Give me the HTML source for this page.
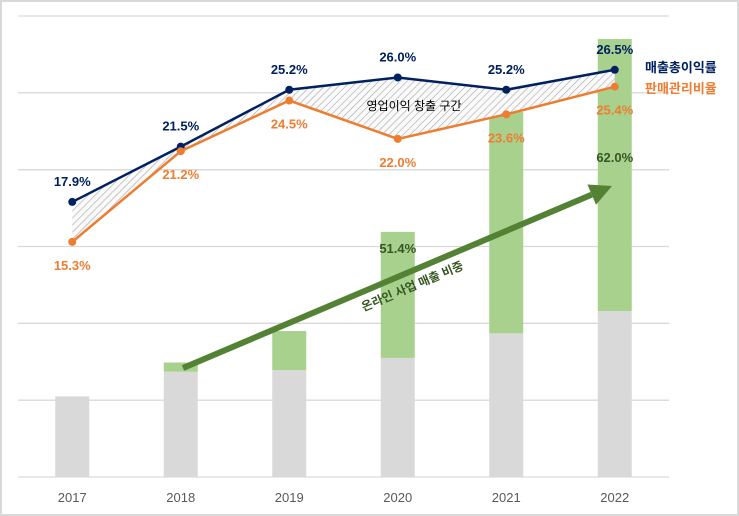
<!DOCTYPE html>
<html><head><meta charset="utf-8"><style>
html,body{margin:0;padding:0;background:#fff;}
svg{display:block;font-family:"Liberation Sans","Noto Sans CJK KR",sans-serif;}
</style></head><body>
<svg id="chart" width="739" height="516" viewBox="0 0 739 516">
<defs>
<pattern id="hatch" width="5" height="5" patternUnits="userSpaceOnUse" patternTransform="rotate(45)">
<rect width="5" height="5" fill="#fafafa"/>
<line x1="0" y1="0" x2="0" y2="5" stroke="#a6a6a6" stroke-width="1.2"/>
</pattern>
</defs>
<rect x="1" y="1" width="737" height="514" fill="#fff" stroke="#d9d9d9" stroke-width="2"/>
<g id="grid"></g>
<g id="bars"></g>
<path id="area" fill="url(#hatch)"/>
<g id="lines"></g>
<g id="labels"></g>
</svg>
<script>
const categories = ["2017","2018","2019","2020","2021","2022"];
const offlineSales = [105,137,139,155,187,216];
const onlineSales = [0,12,51,164,288,354];
const grossMargin = [17.9,21.5,25.2,26.0,25.2,26.5];
const sgaRatio = [15.3,21.2,24.5,22.0,23.6,25.4];
const onlineShareLabels = ["","","","51.4%","","62.0%"];
const barMax = 600, pctMax = 30;

const NS="http://www.w3.org/2000/svg";
const L=18,R=669,T=16,B=477;
const band=(R-L)/categories.length;
const xc=i=>L+band*(i+0.5);
const yBar=v=>B-(v/barMax)*(B-T);
const yPct=v=>B-(v/pctMax)*(B-T);
function mk(tag,attrs,parent){const e=document.createElementNS(NS,tag);for(const k in attrs)e.setAttribute(k,attrs[k]);parent.appendChild(e);return e;}
const grid=document.getElementById('grid'),bars=document.getElementById('bars'),lines=document.getElementById('lines'),labels=document.getElementById('labels');

const ax1=183,ay1=368,ax2=612,ay2=186;
const arrowY=x=>ay1+(ay2-ay1)*(x-ax1)/(ax2-ax1);

for(let k=0;k<=6;k++){
  const y=T+(B-T)*k/6;
  const g=mk('line',{x1:L,x2:R,y1:y,y2:y,stroke:'#d9d9d9','stroke-width':1.3},grid);
  
  
}
categories.forEach((c,i)=>{
  const w=34,x=xc(i)-w/2;
  const g=mk('rect',{x:x,y:yBar(offlineSales[i]),width:w,height:B-yBar(offlineSales[i]),fill:'#d9d9d9'},bars);
  
  
  if(onlineSales[i]>0){
    const top=yBar(offlineSales[i]+onlineSales[i]);
    const o=mk('rect',{x:x,y:top,width:w,height:yBar(offlineSales[i])-top,fill:'#a9d18e'},bars);
    
    
  }
  const t=mk('text',{x:xc(i),y:502,'text-anchor':'middle','font-size':13,fill:'#595959'},labels);
  t.textContent=c;
  
  
  if(onlineShareLabels[i]){
    const s=mk('text',{x:xc(i),y:Math.max(arrowY(xc(i)),ay2)-24,'text-anchor':'middle','font-size':13,'font-weight':'bold',fill:'#375623'},labels);
    s.textContent=onlineShareLabels[i];
    
    
  }
});
let d='';
grossMargin.forEach((v,i)=>{d+=(i?'L':'M')+xc(i)+','+yPct(v);});
for(let i=sgaRatio.length-1;i>=0;i--)d+='L'+xc(i)+','+yPct(sgaRatio[i]);
document.getElementById('area').setAttribute('d',d+'Z');
const ta=mk('text',{x:414,y:110,'text-anchor':'middle','font-size':12,fill:'#000'},labels);
ta.textContent='영업이익 창출 구간';



function series(vals,color,name,above){
  const pts=vals.map((v,i)=>xc(i)+','+yPct(v)).join(' ');
  const pl=mk('polyline',{points:pts,fill:'none',stroke:color,'stroke-width':2.5},lines);
  
  
  vals.forEach((v,i)=>{
    const c=mk('circle',{cx:xc(i),cy:yPct(v),r:4,fill:color},lines);
    
    
    const t=mk('text',{x:xc(i),y:yPct(v)+(above?-16:28),'text-anchor':'middle','font-size':13,'font-weight':'bold',fill:color},labels);
    t.textContent=v.toFixed(1)+'%';
    
    
  });
}
series(grossMargin,'#002060','gross-margin',true);
series(sgaRatio,'#ed7d31','sga-ratio',false);

const ang=Math.atan2(ay2-ay1,ax2-ax1);
const bx=ax2-22*Math.cos(ang),by=ay2-22*Math.sin(ang);
const ar=mk('line',{x1:ax1,y1:ay1,x2:bx,y2:by,stroke:'#548235','stroke-width':6},labels);


const px=-Math.sin(ang),py=Math.cos(ang);
const head=mk('polygon',{points:`${ax2},${ay2} ${bx+px*11},${by+py*11} ${bx-px*11},${by-py*11}`,fill:'#548235'},labels);


const at=mk('text',{x:0,y:0,'text-anchor':'middle','font-size':12,'font-weight':'bold',fill:'#375623',transform:`translate(414,290) rotate(${ang*180/Math.PI})`},labels);
at.textContent='온라인 사업 매출 비중';



const l1=mk('text',{x:645,y:72,'font-size':13,'font-weight':'bold',fill:'#002060'},labels);
l1.textContent='매출총이익률';


const l2=mk('text',{x:645,y:93,'font-size':13,'font-weight':'bold',fill:'#ed7d31'},labels);
l2.textContent='판매관리비율';


</script>
</body></html>
